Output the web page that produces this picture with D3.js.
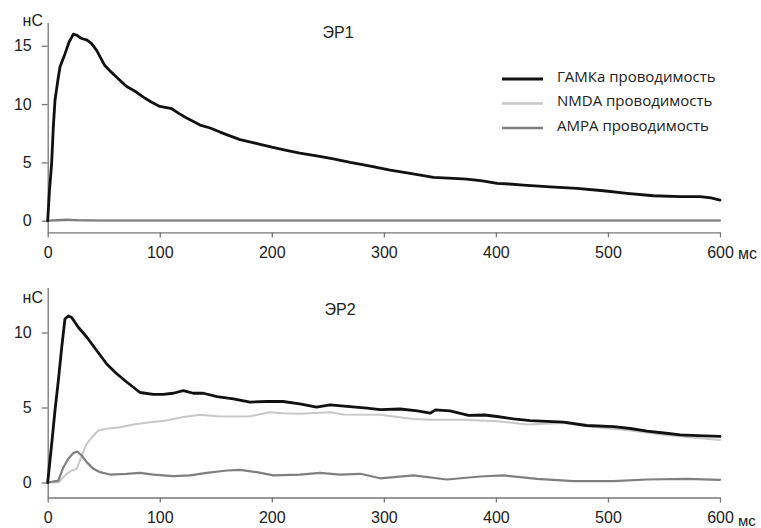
<!DOCTYPE html>
<html>
<head>
<meta charset="utf-8">
<script src="https://cdn.jsdelivr.net/npm/d3@7"></script>
<style>
  html, body { margin: 0; padding: 0; background: #fff; }
  svg { display: block; }
</style>
</head>
<body>
<svg id="chart" width="761" height="528"></svg>
<script>
// Time axis, ms
const xTicks = [0, 100, 200, 300, 400, 500, 600];
const yTicksTop = [0, 5, 10, 15];
const yTicksBottom = [0, 5, 10];

const seriesNames = ["ГАМКа проводимость", "NMDA проводимость", "AMPA проводимость"];
const seriesColors = ["#111111", "#c8c8c8", "#7f7f7f"];
const seriesWidths = [2.8, 2.0, 2.2];

// ЭР1 — conductance, nS, as [time ms, value]
const er1Gaba = [
  [0,0],[1.5,2.5],[3.5,4.9],[5,8],[6.5,10.3],[9,12],[11,13.2],[15.4,14.3],[19,15.3],
  [22.9,16.0],[26,15.9],[28.8,15.7],[31,15.6],[34.8,15.5],[39,15.2],[43.7,14.6],[47,14.0],
  [51,13.3],[56,12.8],[61.6,12.3],[66,11.9],[70.5,11.5],[78,11.1],[85.4,10.6],[92,10.2],
  [100,9.8],[106,9.7],[110.7,9.6],[117,9.2],[124,8.8],[130,8.5],[136,8.2],[145,7.95],
  [153.8,7.6],[162,7.3],[171.7,6.95],[185,6.65],[200,6.3],[212,6.05],[225,5.8],[240,5.55],
  [255,5.3],[270,5.0],[288,4.69],[305.6,4.34],[323.5,4.06],[344.3,3.72],[362,3.63],
  [374,3.57],[388,3.42],[401,3.2],[412,3.15],[424.6,3.06],[448.5,2.91],[472.3,2.78],
  [496,2.57],[517,2.35],[540.7,2.14],[564.6,2.06],[582.4,2.06],[592,1.95],[600,1.77]
];
const er1Nmda = [[0,0],[20,0.03],[100,0.03],[300,0.03],[600,0.03]];
const er1Ampa = [[0,0],[8,0.05],[17,0.1],[26,0.05],[45,0.02],[300,0.02],[600,0.02]];

// ЭР2 — conductance, nS, as [time ms, value]
const er2Gaba = [
  [0,0],[3.6,2.6],[6.5,4.8],[9.5,6.8],[12.5,9.0],[15.4,10.9],[18.4,11.1],[21.4,11.0],
  [27.3,10.35],[34.8,9.7],[43.7,8.8],[52.7,7.9],[61.6,7.25],[70.5,6.7],[82.4,6.0],
  [94.3,5.87],[103,5.87],[112,5.95],[121,6.13],[130,5.95],[139,5.95],[151,5.73],
  [165.7,5.58],[180.6,5.36],[195.5,5.4],[210,5.4],[225,5.24],[240,5.02],[252,5.18],
  [267,5.07],[285,4.96],[296.7,4.86],[314.6,4.9],[330,4.78],[341.3,4.62],[346,4.84],
  [359,4.78],[375.6,4.47],[390,4.5],[401,4.4],[415.7,4.24],[430.6,4.13],[460.4,4.02],
  [481,3.8],[505,3.73],[520,3.6],[534.8,3.42],[550,3.3],[564.6,3.18],[580,3.12],[600,3.07]
];
const er2Nmda = [
  [0,0],[10,0],[12.5,0.24],[17,0.58],[21.4,0.8],[25.9,0.9],[30.4,1.8],[34.8,2.58],
  [39.3,3.0],[45.2,3.47],[52.7,3.58],[64.6,3.69],[76.5,3.87],[91.3,4.02],[106,4.13],
  [121,4.36],[136,4.51],[151,4.42],[166,4.4],[180.6,4.42],[198.5,4.69],[210,4.62],
  [225,4.58],[252,4.69],[264,4.53],[296.7,4.51],[326.5,4.24],[341.3,4.18],[371,4.18],
  [401,4.09],[427.7,3.87],[460.4,3.96],[490,3.69],[520,3.47],[549.7,3.18],[579.5,2.96],
  [600,2.84]
];
const er2Ampa = [
  [0,0],[9.5,0.13],[14,1.02],[18.4,1.58],[22.9,1.96],[26.4,2.07],[30.4,1.8],[34.8,1.36],
  [40.8,0.91],[46.7,0.69],[55.6,0.53],[70.5,0.58],[82.4,0.64],[94.3,0.53],[112,0.42],
  [127,0.47],[142,0.64],[160,0.8],[171.7,0.84],[186.6,0.69],[201.5,0.47],[225,0.53],
  [243,0.64],[261,0.53],[279,0.58],[296.7,0.28],[326.5,0.47],[356.3,0.2],[386,0.4],
  [406.8,0.47],[436.6,0.24],[469.3,0.09],[505,0.09],[534.8,0.2],[570.5,0.24],[600,0.18]
];

const svg = d3.select("#chart");
const tickFont = "'Liberation Sans', Arial, sans-serif";

const x = d3.scaleLinear().domain([0, 600]).range([47.7, 720]);

const panels = [
  {
    title: "ЭР1", yTicks: yTicksTop,
    y: d3.scaleLinear().domain([-1, 17]).range([232.4, 22.4]),
    series: [er1Nmda, er1Ampa, er1Gaba],
    titleX: 338, titleY: 38, unitY: 26, msY: 259, msSize: 16
  },
  {
    title: "ЭР2", yTicks: yTicksBottom,
    y: d3.scaleLinear().domain([-1, 13]).range([497.5, 287.5]),
    series: [er2Nmda, er2Ampa, er2Gaba],
    titleX: 340, titleY: 315, unitY: 303, msY: 526, msSize: 15
  }
];

// draw order: NMDA, AMPA, then GABA on top
const drawOrder = [1, 2, 0];

panels.forEach(p => {
  const g = svg.append("g");

  // x axis sits one unit below zero
  const xAxis = g.append("g")
    .attr("transform", `translate(0,${p.y(-1)})`)
    .call(d3.axisBottom(x).tickValues(xTicks).tickSize(5).tickSizeOuter(0).tickPadding(9));

  const yAxis = g.append("g")
    .attr("transform", `translate(${x(0)},0)`)
    .call(d3.axisLeft(p.y).tickValues(p.yTicks).tickSize(6).tickSizeOuter(0).tickPadding(10));

  [xAxis, yAxis].forEach(a => {
    a.select(".domain").attr("stroke", "#777").attr("stroke-width", 1.3);
    a.selectAll(".tick line").attr("stroke", "#777").attr("stroke-width", 1.3);
    a.selectAll(".tick text")
      .attr("fill", "#222")
      .style("font-family", tickFont)
      .style("font-size", "16px");
  });

  // units
  g.append("text")
    .attr("x", 43).attr("y", p.unitY)
    .attr("text-anchor", "end")
    .attr("fill", "#222")
    .style("font-family", tickFont).style("font-size", "16px")
    .text("нС");
  g.append("text")
    .attr("x", 738).attr("y", p.msY)
    .attr("fill", "#222")
    .style("font-family", tickFont).style("font-size", p.msSize + "px")
    .text("мс");

  // panel title
  g.append("text")
    .attr("x", p.titleX).attr("y", p.titleY)
    .attr("text-anchor", "middle")
    .attr("fill", "#222")
    .style("font-family", tickFont).style("font-size", "16px")
    .text(p.title);

  const line = d3.line().x(d => x(d[0])).y(d => p.y(d[1]));
  drawOrder.forEach((si, k) => {
    g.append("path")
      .datum(p.series[k])
      .attr("fill", "none")
      .attr("stroke", seriesColors[si])
      .attr("stroke-width", seriesWidths[si])
      .attr("stroke-linejoin", "round")
      .attr("stroke-linecap", "round")
      .attr("d", line);
  });
});

// legend
const legend = svg.append("g");
const legendBaselines = [81.5, 106, 130.5];
seriesNames.forEach((name, i) => {
  const ly = legendBaselines[i];
  legend.append("line")
    .attr("x1", 502).attr("x2", 543)
    .attr("y1", ly - 2.5).attr("y2", ly - 2.5)
    .attr("stroke", seriesColors[i])
    .attr("stroke-width", seriesWidths[i] + 0.4);
  legend.append("text")
    .attr("x", 557).attr("y", ly)
    .attr("fill", "#222")
    .style("font-family", "'Open Sans', sans-serif")
    .style("font-size", "15px")
    .text(name);
});
</script>
</body>
</html>
